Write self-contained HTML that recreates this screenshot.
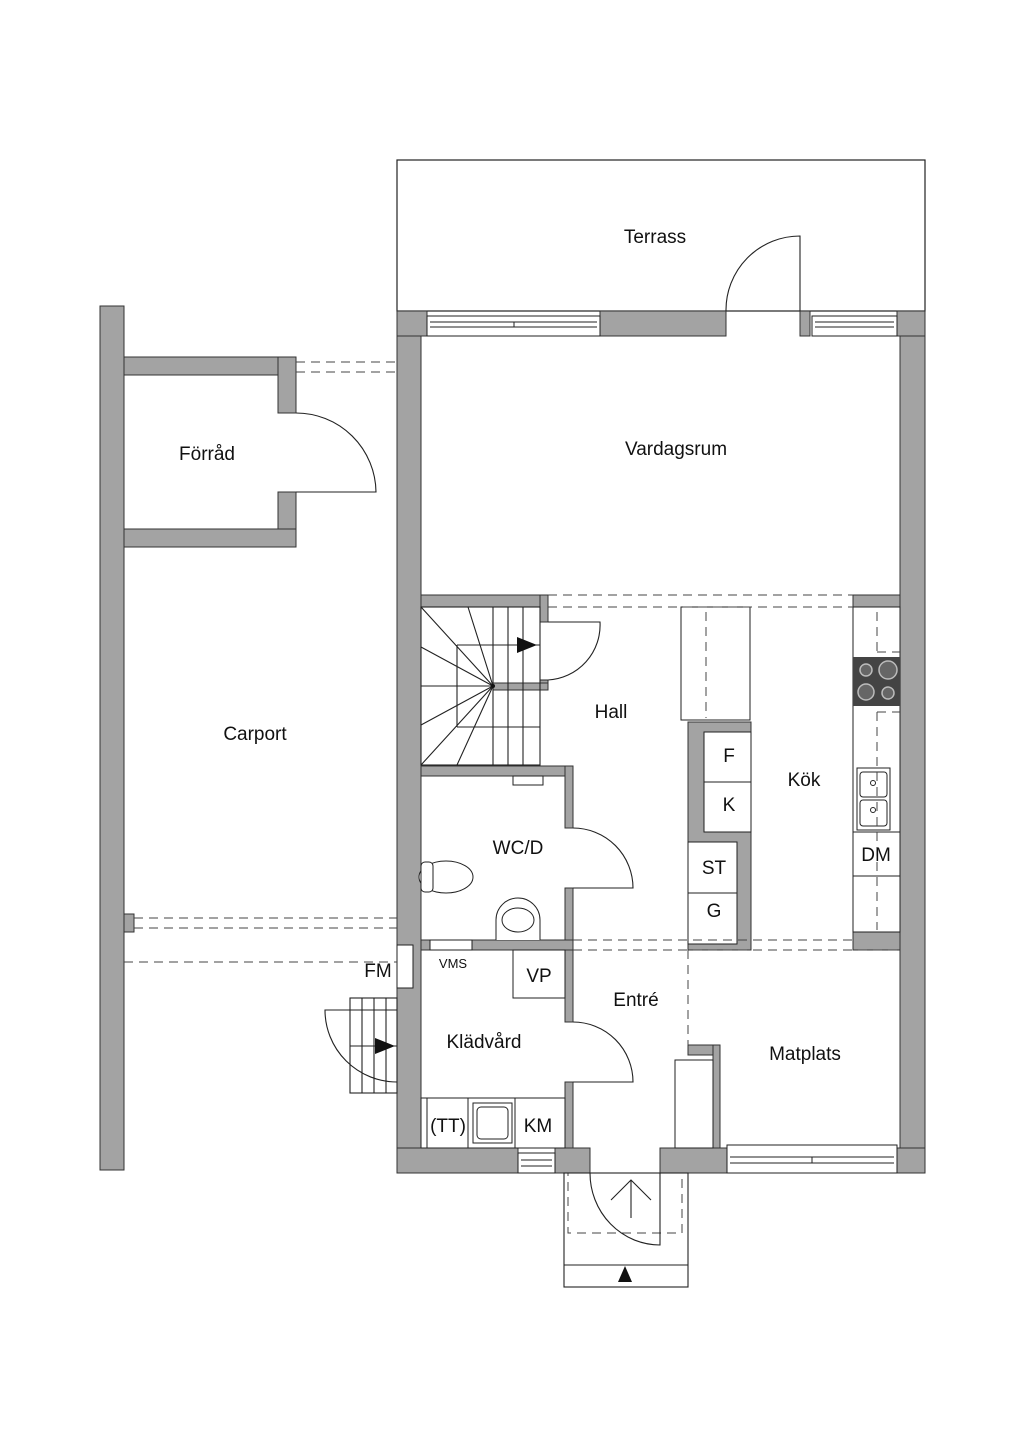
<!DOCTYPE html>
<html><head><meta charset="utf-8"><style>
html,body{margin:0;padding:0;background:#fff}
svg{display:block}
text{font-family:"Liberation Sans",sans-serif;font-size:19px;fill:#111;text-anchor:middle}
</style></head><body>
<svg width="1024" height="1448" viewBox="0 0 1024 1448" xmlns="http://www.w3.org/2000/svg">
<g fill="none" stroke="#222" stroke-width="1.2">
<!-- terrace -->
<rect x="397" y="160" width="528" height="151"/>
</g>
<g fill="#a3a3a3" stroke="#333" stroke-width="1">
<!-- main outer walls -->
<rect x="397" y="311" width="24" height="862"/>
<rect x="900" y="311" width="25" height="862"/>
<rect x="397" y="311" width="30" height="25"/>
<rect x="600" y="311" width="126" height="25"/>
<rect x="800" y="311" width="10" height="25"/>
<rect x="897" y="311" width="28" height="25"/>
<rect x="397" y="1148" width="121" height="25"/>
<rect x="555" y="1148" width="35" height="25"/>
<rect x="660" y="1148" width="67" height="25"/>
<rect x="897" y="1148" width="28" height="25"/>
<!-- vardagsrum bottom -->
<rect x="421" y="595" width="127" height="12"/>
<rect x="853" y="595" width="47" height="12"/>
<!-- stair wall -->
<rect x="540" y="595" width="8" height="27"/>
<rect x="540" y="680" width="8" height="10"/>
<rect x="493" y="683" width="55" height="7"/>
<!-- WC walls -->
<rect x="421" y="766" width="152" height="10"/>
<rect x="565" y="766" width="8" height="62"/>
<rect x="565" y="888" width="8" height="62"/>
<rect x="421" y="940" width="152" height="10"/>
<!-- klädvård inner wall -->
<rect x="565" y="950" width="8" height="72"/>
<rect x="565" y="1082" width="8" height="66"/>
<!-- kitchen island wall -->
<rect x="688" y="722" width="63" height="228"/>
<rect x="853" y="932" width="47" height="18"/>
<!-- matplats wall -->
<rect x="688" y="1045" width="32" height="10"/>
<rect x="713" y="1045" width="7" height="103"/>
<!-- carport / förråd -->
<rect x="100" y="306" width="24" height="864"/>
<rect x="124" y="357" width="172" height="18"/>
<rect x="278" y="357" width="18" height="56"/>
<rect x="278" y="492" width="18" height="55"/>
<rect x="124" y="529" width="172" height="18"/>
<rect x="124" y="914" width="10" height="18"/>
</g>
<g fill="#fff" stroke="#222" stroke-width="1">
<!-- windows top -->
<rect x="427" y="316" width="173" height="20"/>
<line x1="430" y1="322" x2="597" y2="322"/><line x1="430" y1="327" x2="597" y2="327"/><line x1="514" y1="322" x2="514" y2="327"/>
<rect x="812" y="316" width="85" height="20"/>
<line x1="815" y1="322" x2="894" y2="322"/><line x1="815" y1="327" x2="894" y2="327"/>
<!-- windows bottom -->
<rect x="518" y="1153" width="37" height="20"/>
<line x1="521" y1="1160" x2="552" y2="1160"/><line x1="521" y1="1166" x2="552" y2="1166"/>
<rect x="727" y="1145" width="170" height="28"/>
<line x1="730" y1="1157" x2="894" y2="1157"/><line x1="730" y1="1163" x2="894" y2="1163"/><line x1="812" y1="1157" x2="812" y2="1163"/>
<!-- FM / VMS -->
<rect x="397" y="945" width="16" height="43"/>
<rect x="430" y="940" width="42" height="10"/>
<!-- kitchen -->
<rect x="681" y="607" width="69" height="113"/>
<rect x="704" y="732" width="47" height="50"/><rect x="704" y="782" width="47" height="50"/>
<rect x="688" y="842" width="49" height="51"/><rect x="688" y="893" width="49" height="51"/>
<rect x="853" y="607" width="47" height="325"/>
<rect x="853" y="832" width="47" height="44"/>
<!-- VP, counter -->
<rect x="513" y="950" width="52" height="48"/>
<rect x="421" y="1098" width="144" height="50"/>
<line x1="427" y1="1098" x2="427" y2="1148"/><line x1="468" y1="1098" x2="468" y2="1148"/><line x1="515" y1="1098" x2="515" y2="1148"/>
<rect x="473" y="1103" width="39" height="40"/><rect x="477" y="1107" width="31" height="32" rx="4"/>
<rect x="675" y="1060" width="38" height="88"/>
<!-- sink kitchen -->
<rect x="857" y="768" width="33" height="62"/><rect x="860" y="772" width="27" height="25" rx="3"/><rect x="860" y="800" width="27" height="26" rx="3"/>
<circle cx="873" cy="783" r="2.5"/><circle cx="873" cy="810" r="2.5"/>
<!-- WC: toilet, basin, cabinets -->
<ellipse cx="446" cy="877" rx="27" ry="16"/><rect x="421" y="862" width="12" height="30" rx="4"/>
<path d="M496 940 V920 A22 22 0 0 1 540 920 V940"/><ellipse cx="518" cy="920" rx="16" ry="12"/>
<rect x="513" y="776" width="30" height="9"/>
</g>
<!-- stove -->
<rect x="853" y="657" width="47" height="49" fill="#444"/>
<g fill="#666" stroke="#bbb" stroke-width="1.5"><circle cx="866" cy="670" r="6"/><circle cx="888" cy="670" r="9"/><circle cx="866" cy="692" r="8"/><circle cx="888" cy="693" r="6"/></g>
<!-- dashed lines -->
<g stroke="#444" stroke-width="1" stroke-dasharray="9,6" fill="none">
<line x1="548" y1="595" x2="853" y2="595"/><line x1="548" y1="607" x2="853" y2="607"/>
<line x1="573" y1="940" x2="853" y2="940"/><line x1="573" y1="950" x2="900" y2="950"/>
<line x1="688" y1="950" x2="688" y2="1045"/>
<line x1="296" y1="362" x2="397" y2="362"/><line x1="296" y1="372" x2="397" y2="372"/>
<line x1="134" y1="918" x2="397" y2="918"/><line x1="134" y1="928" x2="397" y2="928"/>
<line x1="124" y1="962" x2="397" y2="962"/>
<line x1="706" y1="612" x2="706" y2="718"/>
<line x1="877" y1="612" x2="877" y2="652"/><line x1="877" y1="712" x2="877" y2="930"/><line x1="877" y1="652" x2="900" y2="652"/><line x1="877" y1="712" x2="900" y2="712"/>
<rect x="568" y="1173" width="114" height="60"/>
</g>
<!-- doors & stairs -->
<g fill="none" stroke="#222" stroke-width="1.1">
<path d="M800 311 V236 A74 74 0 0 0 726 311"/>
<path d="M296 492 H376 A80 80 0 0 0 296 413"/>
<path d="M573 888 H633 A60 60 0 0 0 573 828"/>
<path d="M573 1082 H633 A60 60 0 0 0 573 1022"/>
<path d="M548 680 H540 M548 680 A55 55 0 0 0 600 622 H548"/>
<path d="M660 1173 V1245 A70 72 0 0 1 590 1173"/>
<path d="M397 1082 A72 72 0 0 1 325 1010 H397"/>
<rect x="564" y="1173" width="124" height="114"/><line x1="564" y1="1265" x2="688" y2="1265"/>
<line x1="631" y1="1180" x2="631" y2="1218"/><path d="M611 1200 L631 1180 L651 1200"/>
<rect x="350" y="998" width="47" height="95"/>
<line x1="362" y1="998" x2="362" y2="1093"/><line x1="374" y1="998" x2="374" y2="1093"/><line x1="386" y1="998" x2="386" y2="1093"/><line x1="350" y1="1046" x2="397" y2="1046"/>
<!-- interior stair -->
<rect x="421" y="607" width="119" height="158"/>
<line x1="493" y1="607" x2="493" y2="765"/><line x1="508" y1="607" x2="508" y2="765"/><line x1="523" y1="607" x2="523" y2="765"/>
<line x1="457" y1="645" x2="540" y2="645"/><line x1="457" y1="727" x2="540" y2="727"/><line x1="457" y1="645" x2="457" y2="727"/>
<line x1="421" y1="686" x2="493" y2="686"/>
<path d="M493 686 L421 607 M493 686 L468 607 M493 686 L421 647 M493 686 L421 725 M493 686 L421 765 M493 686 L457 765"/>
</g>
<g fill="#111">
<path d="M517 637 L537 645 L517 653 Z"/>
<path d="M375 1038 L395 1046 L375 1054 Z"/>
<path d="M618 1282 L625 1266 L632 1282 Z"/>
<circle cx="493" cy="686" r="2"/>
</g>
<!-- labels -->
<text x="655" y="243">Terrass</text>
<text x="676" y="455">Vardagsrum</text>
<text x="207" y="460">Förråd</text>
<text x="255" y="740">Carport</text>
<text x="611" y="718">Hall</text>
<text x="804" y="786">Kök</text>
<text x="518" y="854">WC/D</text>
<text x="636" y="1006">Entré</text>
<text x="484" y="1048">Klädvård</text>
<text x="805" y="1060">Matplats</text>
<text x="378" y="977">FM</text>
<text x="453" y="968" style="font-size:13px">VMS</text>
<text x="539" y="982">VP</text>
<text x="729" y="762">F</text>
<text x="729" y="811">K</text>
<text x="714" y="874">ST</text>
<text x="714" y="917">G</text>
<text x="876" y="861">DM</text>
<text x="448" y="1132">(TT)</text>
<text x="538" y="1132">KM</text>
</svg>
</body></html>
